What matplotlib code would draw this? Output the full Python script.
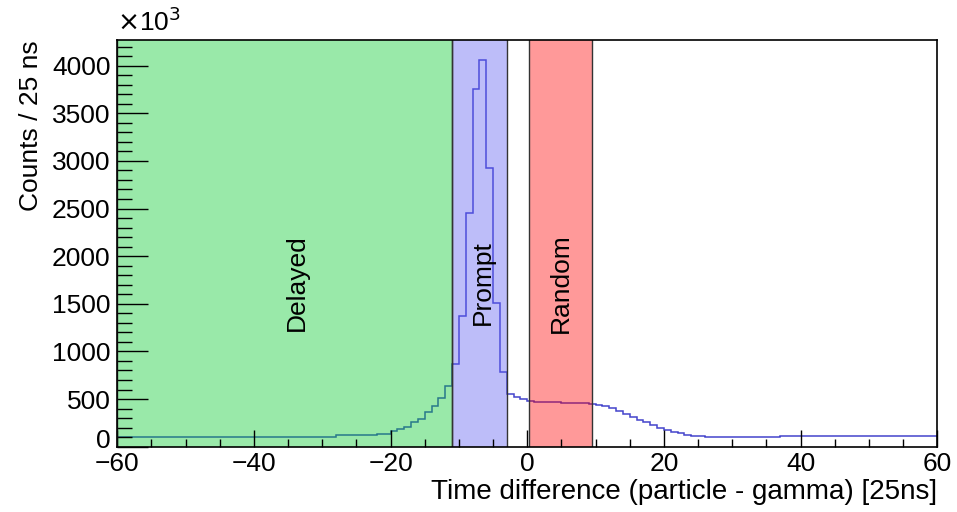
import matplotlib
matplotlib.use('Agg')
import matplotlib.pyplot as plt
import matplotlib.transforms as mtrans
from matplotlib.ticker import MultipleLocator

plt.rcParams['font.family'] = ['Liberation Sans', 'DejaVu Sans']

# histogram bin edges (25 ns units) and counts (x10^3)
edges = ([-60, -28, -22] + list(range(-20, 25)) + [26, 37, 60])
counts = [105, 122, 135,
          161, 185, 206, 255, 293, 360, 426, 507, 636,
          867, 1373, 2456, 3750, 4064, 2921, 1506, 786,
          556, 527, 500,
          478, 472, 470, 468, 466, 462, 460, 458, 455, 450,
          440, 428, 408, 380, 348, 312, 282, 255, 226, 199,
          178, 158, 142, 128, 115, 105, 112]

# time windows
windows = ['Delayed', 'Prompt', 'Random']
win_lo = [-60, -11, 0.3]
win_hi = [-11, -3, 9.5]
win_colors = ['#00c82a', '#5c5cf2', '#ff0000']
label_x = [-33.7, -6.5, 4.9]
label_y = 1720

FS = 19

fig = plt.figure(figsize=(9.57, 5.12), dpi=100)
ax = fig.add_axes([0.1226, 0.1275, 0.8568, 0.7946])

ax.stairs(counts, edges, baseline=None, color='#4444cc', linewidth=1.1)

for name, lo, hi, col, tx in zip(windows, win_lo, win_hi, win_colors, label_x):
    ax.axvspan(lo, hi, facecolor=col, alpha=0.4, edgecolor='none')
    ax.axvline(lo, color='#333333', linewidth=1.0)
    ax.axvline(hi, color='#333333', linewidth=1.0)
    ax.text(tx, label_y, name, rotation=90, ha='center', va='center',
            fontsize=FS)

ax.set_xlim(-60, 60)
ax.set_ylim(0, 4270)

ax.xaxis.set_major_locator(MultipleLocator(20))
ax.xaxis.set_minor_locator(MultipleLocator(5))
ax.yaxis.set_major_locator(MultipleLocator(500))
ax.yaxis.set_minor_locator(MultipleLocator(100))
ax.tick_params(axis='both', which='both', direction='in', labelsize=FS,
               top=False, right=False)
ax.tick_params(axis='x', which='major', length=12, width=1, pad=4)
ax.tick_params(axis='x', which='minor', length=6, width=1)
ax.tick_params(axis='y', which='major', length=22, width=1, pad=5)
ax.tick_params(axis='y', which='minor', length=11, width=1)
for sp in ax.spines.values():
    sp.set_linewidth(1.2)

ax.set_xlabel('Time difference (particle - gamma) [25ns]', fontsize=20,
              loc='right', labelpad=2)
ax.set_ylabel('Counts / 25 ns', fontsize=FS, loc='top', labelpad=6)
fig.text(0.1226, 0.93, r'$\times$10$^3$', fontsize=FS, ha='left',
         va='bottom')

# ROOT puts the "0" of the y axis a bit higher, clear of the x labels
fig.canvas.draw()
for lbl in ax.get_yticklabels():
    if lbl.get_text() == '0':
        lbl.set_transform(lbl.get_transform() +
                          mtrans.ScaledTranslation(0, 6 / 72, fig.dpi_scale_trans))

fig.savefig('out.png', dpi=100)
